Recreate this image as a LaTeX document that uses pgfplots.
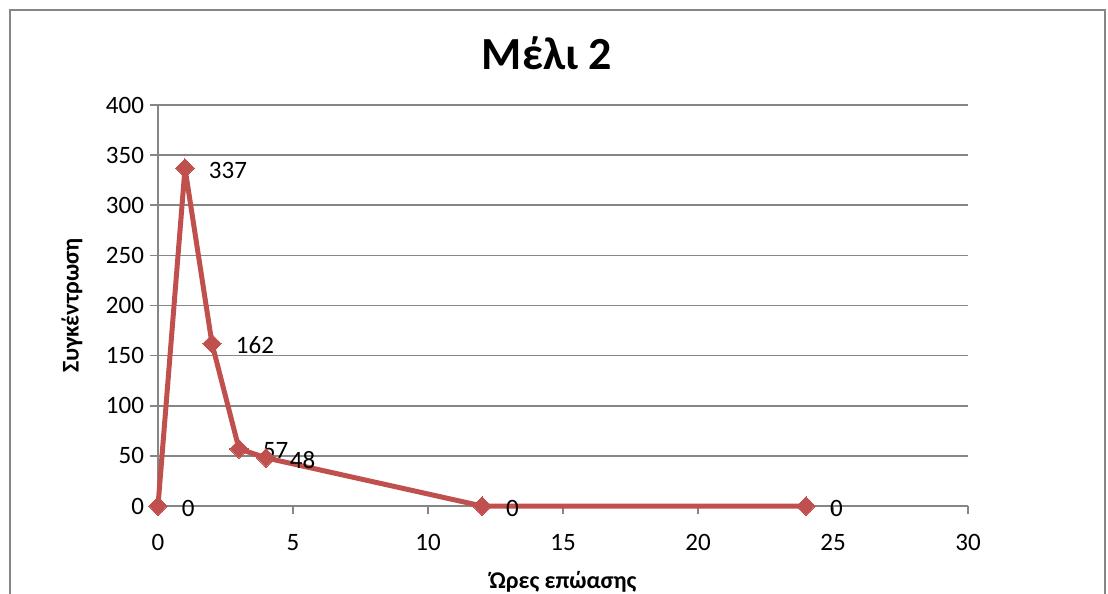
\documentclass[border=0pt]{standalone}
\usepackage{pgfplots}
\pgfplotsset{compat=1.18}
\usepackage{fontspec}
\setmainfont{Carlito}
\definecolor{exred}{RGB}{192,80,77}
\definecolor{exgrid}{RGB}{134,134,134}
\begin{document}
\begin{tikzpicture}
% page: 554 x 297 pt (reference pixels / 2)
\useasboundingbox (-79pt,-44pt) rectangle (475pt,253pt);
\draw[exgrid, line width=1pt] (-74pt,-44pt) -- (-74pt,248pt) -- (473.5pt,248pt) -- (473.5pt,-44pt);
\begin{axis}[
    at={(0pt,0pt)}, anchor=origin,
    scale only axis,
    width=405pt,
    height=200.5pt,
    xmin=0, xmax=30,
    ymin=0, ymax=400,
    xtick={0,5,...,30},
    ytick={0,50,...,400},
    axis x line*=bottom,
    axis y line*=left,
    axis line style={exgrid, line width=0.8pt, -},
    tick style={exgrid, line width=0.8pt},
    tick align=outside,
    major tick length=4pt,
    ymajorgrids,
    grid style={exgrid, line width=0.8pt},
    ticklabel style={font=\fontsize{12.5}{14}\selectfont},
    /pgf/number format/assume math mode=true,
    xticklabel style={yshift=-6.5pt},
    yticklabel style={xshift=0.5pt},
    title={\bfseries Μέλι 2},
    title style={font=\fontsize{23}{26}\selectfont, at={(0.5,1)}, anchor=center, yshift=20pt, xshift=-8pt},
    xlabel={\bfseries Ώρες επώασης},
    ylabel={\bfseries Συγκέντρωση},
    label style={font=\fontsize{12}{14}\selectfont},
    xlabel style={at={(0.5,0)}, anchor=center, yshift=-38pt},
    ylabel style={at={(0,0.5)}, anchor=center, yshift=43pt},
    clip=false,
]
\addplot[color=exred, line width=2.5pt, line join=round,
    mark=diamond*, mark size=4.7pt,
    mark options={fill=exred, draw=exred, line width=0pt, xscale=1.3},
    nodes near coords,
    every node near coord/.style={anchor=west, inner sep=0pt, xshift=12pt, yshift=-1pt, text=black, font=\fontsize{12.5}{14}\selectfont},
    ] coordinates {
    (0, 0)
    (1, 337)
    (2, 162)
    (3, 57)
    (4, 48)
    (12, 0)
    (24, 0)
};
\end{axis}
\end{tikzpicture}
\end{document}
